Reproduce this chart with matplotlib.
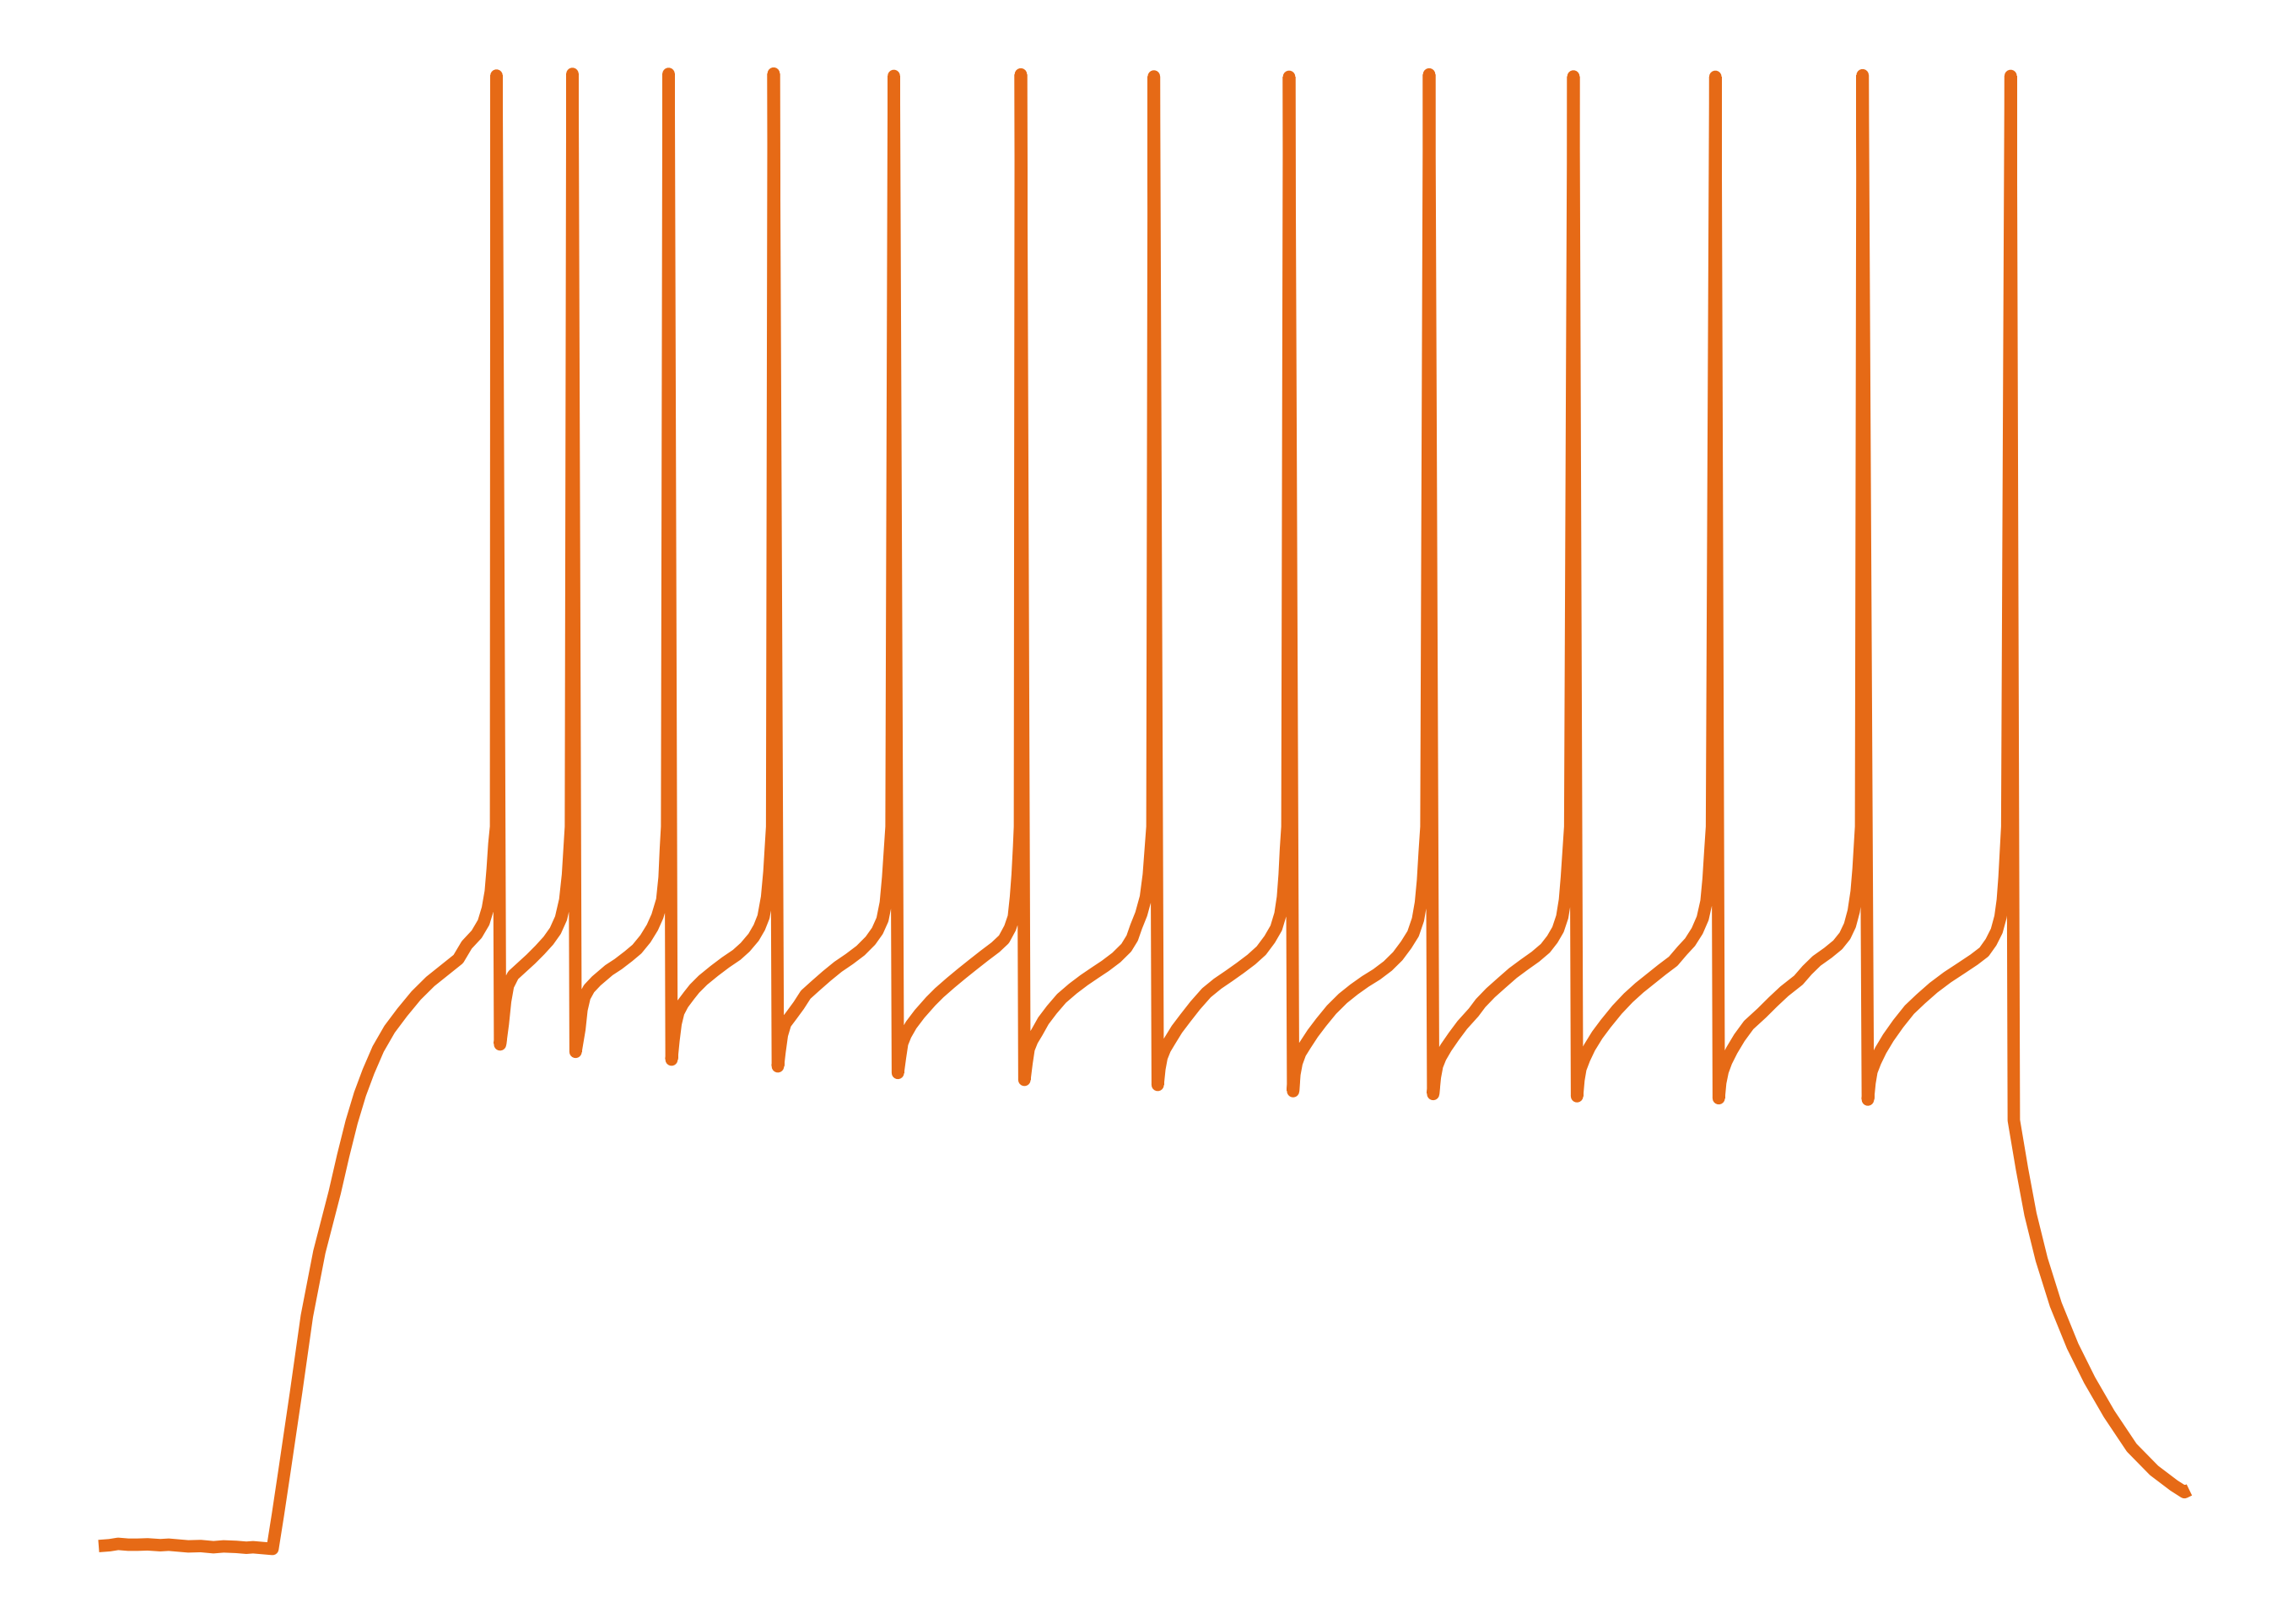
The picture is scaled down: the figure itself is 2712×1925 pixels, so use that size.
import matplotlib
matplotlib.use("Agg")
import matplotlib.pyplot as plt

# ---- data (time in ms, membrane potential in mV) ----
onset_t = [0.0, 5.2, 9.2, 14.0, 18.4, 23.2, 29.2, 33.2, 38.0, 42.4, 48.4, 54.4, 59.2, 65.2, 70.0, 73.2, 78.0, 82.4,
           85.0, 88.0, 93.6, 98.7, 104.6, 111.9, 115.9, 119.9, 123.9, 127.9, 132.5, 137.9, 143.9,
           150.5, 157.2, 163.9, 170.5, 174.5, 179.2, 182.5, 184.5, 185.9, 186.8, 187.6, 188.4]
onset_v = [-69.98, -69.93, -69.85, -69.90, -69.90, -69.88, -69.93, -69.90, -69.95, -70.00, -69.98, -70.05, -70.00,
           -70.03, -70.08, -70.05, -70.10, -70.15,
           -68.10, -65.60, -60.85, -56.35, -52.55, -49.02, -46.85, -44.85, -43.19, -41.85, -40.52,
           -39.35, -38.35, -37.35, -36.52, -35.85, -35.19, -34.35, -33.72, -33.02, -32.19, -31.19, -29.85, -28.35,
           -27.35]

peak_t = [188.6, 224.6, 270.2, 320.0, 377.0, 437.2, 500.3, 564.4, 630.8, 699.2, 766.5, 836.3, 906.5]
peak_v = [17.17, 17.27, 17.27, 17.29, 17.15, 17.24, 17.12, 17.10, 17.24, 17.12, 17.10, 17.19, 17.15]

trough_t = [190.3, 226.1, 271.6, 322.0, 378.9, 438.9, 502.1, 566.3, 632.7, 700.9, 768.1, 838.8]
trough_v = [-40.25, -40.69, -41.15, -41.55, -41.94, -42.35, -42.65, -43.02, -43.19, -43.32, -43.44, -43.52]

isi_ramp_t = [
    [191.6, 192.7, 194.0, 196.5, 200.5, 204.9, 209.2, 213.2, 216.5, 219.2, 221.2, 222.5, 223.3, 223.9],
    [227.9, 228.9, 230.3, 232.5, 235.9, 241.9, 246.3, 251.2, 255.2, 259.2, 262.5, 264.9, 267.2, 268.3, 268.9, 269.5],
    [272.5, 273.5, 274.8, 276.9, 279.9, 282.5, 286.5, 291.9, 297.2, 302.5, 306.5, 310.5, 313.2, 315.2, 316.9, 318.0,
     318.8, 319.3],
    [322.8, 323.9, 325.5, 328.5, 331.9, 335.2, 339.9, 345.2, 350.5, 355.9, 361.2, 365.9, 369.2, 371.6, 373.2, 374.3,
     375.2, 375.9],
    [379.9, 380.9, 382.5, 385.2, 389.2, 394.5, 398.5, 403.9, 409.2, 414.5, 419.9, 425.2, 429.2, 432.1, 433.9, 434.9,
     435.7, 436.4, 436.8],
    [439.9, 440.9, 442.5, 444.9, 447.9, 451.9, 456.5, 461.9, 467.2, 472.5, 477.2, 482.5, 487.2, 490.0, 491.9, 494.3,
     496.5, 497.9, 498.8, 499.6],
    [502.9, 503.9, 505.5, 507.9, 511.2, 515.2, 519.9, 525.2, 530.5, 535.9, 541.2, 546.5, 551.2, 555.2, 558.3, 560.3,
     561.5, 562.3, 562.9, 563.6],
    [566.9, 567.9, 569.6, 572.1, 575.6, 579.6, 584.5, 589.9, 595.2, 600.5, 605.9, 611.2, 615.9, 619.9, 623.2, 625.5,
     626.9, 627.9, 628.7, 629.5],
    [633.5, 634.5, 636.1, 638.8, 642.5, 646.5, 651.9, 655.2, 659.9, 665.2, 670.5, 675.9, 681.2, 685.9, 689.2, 691.9,
     693.9, 695.2, 696.1, 696.9, 697.7],
    [701.6, 702.5, 704.3, 706.8, 710.5, 714.5, 719.9, 725.2, 730.5, 735.9, 741.2, 746.5, 750.8, 754.5, 757.9, 760.5,
     762.3, 763.3, 764.1, 764.9],
    [768.8, 769.9, 771.6, 774.3, 777.9, 782.3, 788.5, 793.9, 799.2, 805.9, 810.0, 814.5, 819.9, 824.5, 827.9, 830.3,
     832.1, 833.5, 834.4, 835.1, 835.6],
    [839.6, 840.5, 842.3, 844.9, 848.5, 853.2, 858.5, 863.9, 869.9, 876.5, 883.2, 889.2, 893.9, 897.2, 899.9, 901.7,
     902.8, 903.6, 904.3, 904.9],
]
isi_ramp_v = [
    [-39.02, -37.69, -36.77, -36.15, -35.69, -35.19, -34.65, -34.10, -33.52, -32.77, -31.69, -30.19, -28.52, -27.35],
    [-39.35, -38.19, -37.44, -36.94, -36.49, -35.85, -35.49, -35.02, -34.60, -33.99, -33.32, -32.65, -31.69, -30.35,
     -28.69, -27.35],
    [-40.02, -39.02, -38.35, -37.85, -37.35, -36.94, -36.44, -35.89, -35.39, -34.94, -34.49, -33.90, -33.32, -32.69,
     -31.52, -30.02, -28.35, -27.35],
    [-40.69, -39.69, -39.02, -38.52, -37.94, -37.30, -36.77, -36.19, -35.65, -35.19, -34.69, -34.10, -33.52, -32.85,
     -31.85, -30.35, -28.69, -27.35],
    [-41.02, -40.19, -39.69, -39.10, -38.44, -37.69, -37.19, -36.60, -36.05, -35.52, -34.99, -34.49, -34.02, -33.35,
     -32.69, -31.52, -30.19, -28.52, -27.35],
    [-41.35, -40.52, -40.02, -39.52, -38.85, -38.19, -37.52, -36.94, -36.44, -35.99, -35.60, -35.10, -34.52, -33.95,
     -33.27, -32.52, -31.52, -30.19, -28.69, -27.35],
    [-41.69, -41.02, -40.52, -40.02, -39.35, -38.69, -37.94, -37.19, -36.65, -36.19, -35.72, -35.22, -34.69, -34.02,
     -33.35, -32.52, -31.52, -30.19, -28.69, -27.35],
    [-42.02, -41.35, -40.77, -40.27, -39.60, -38.94, -38.19, -37.52, -36.99, -36.52, -36.10, -35.60, -35.02, -34.35,
     -33.69, -32.85, -31.85, -30.52, -28.85, -27.35],
    [-42.19, -41.52, -41.02, -40.44, -39.77, -39.10, -38.35, -37.80, -37.19, -36.60, -36.02, -35.52, -35.05, -34.55,
     -34.02, -33.44, -32.69, -31.69, -30.35, -28.85, -27.35],
    [-42.35, -41.69, -41.10, -40.44, -39.69, -39.02, -38.19, -37.49, -36.89, -36.35, -35.82, -35.32, -34.69, -34.19,
     -33.52, -32.77, -31.77, -30.44, -28.85, -27.35],
    [-42.52, -41.85, -41.27, -40.60, -39.85, -39.10, -38.39, -37.72, -37.10, -36.44, -35.85, -35.30, -34.82, -34.35,
     -33.82, -33.19, -32.35, -31.19, -29.85, -28.35, -27.35],
    [-42.52, -41.85, -41.27, -40.60, -39.85, -39.02, -38.19, -37.55, -36.89, -36.27, -35.72, -35.22, -34.77, -34.19,
     -33.52, -32.69, -31.69, -30.35, -28.69, -27.35],
]

decay_t = [908.0, 911.9, 915.9, 921.2, 927.9, 935.9, 943.9, 953.2, 963.9, 974.5, 983.9, 988.9, 991.2]
decay_v = [-44.75, -47.64, -50.32, -53.00, -55.67, -58.13, -60.14, -62.15, -64.15, -65.50, -66.39, -66.79, -66.65]

# ---- assemble the trace ----
t = list(onset_t) + [peak_t[0]]
v = list(onset_v) + [peak_v[0]]
for k in range(len(trough_t)):
    t += [trough_t[k]] + isi_ramp_t[k] + [peak_t[k + 1]]
    v += [trough_v[k]] + isi_ramp_v[k] + [peak_v[k + 1]]
t += decay_t
v += decay_v

fig = plt.figure(figsize=(13.56, 9.625), dpi=200)
ax = fig.add_axes([0, 0, 1, 1])
ax.plot(t, v, color="#e66a16", linewidth=5.3, solid_joinstyle="round", solid_capstyle="butt")
ax.set_xlim(-46.8, 1038.0)
ax.set_ylim(-74.6, 21.65)
ax.axis("off")
fig.savefig("out.png", dpi=200, facecolor="white")
